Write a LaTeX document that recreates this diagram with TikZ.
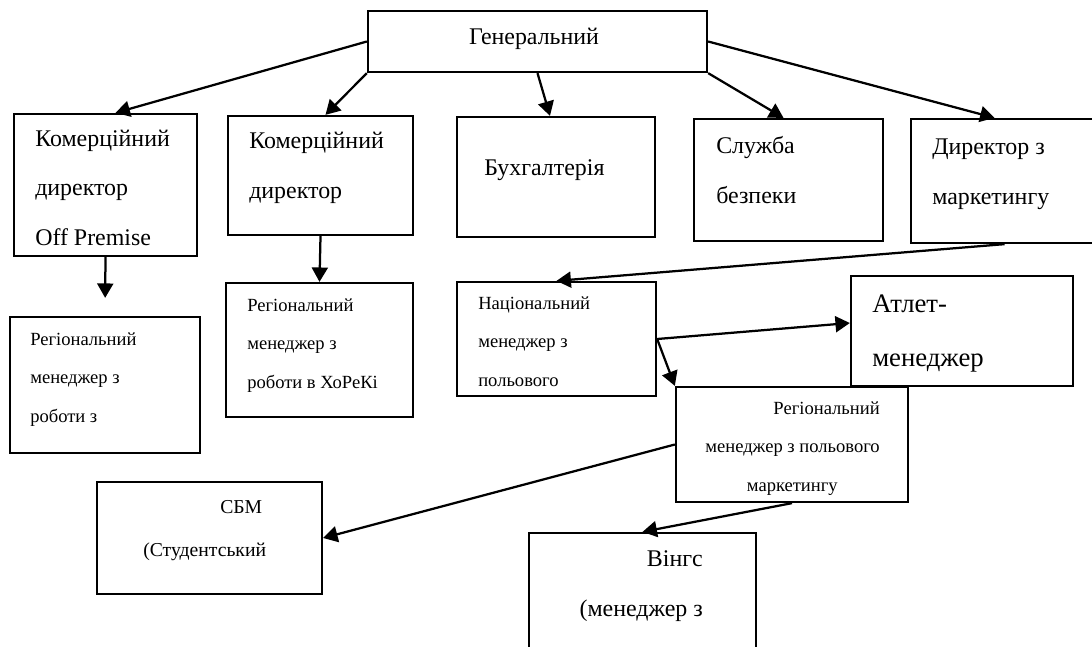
\documentclass[tikz,border=0pt]{standalone}
\usepackage{fontspec}
\setmainfont{Liberation Serif}
\usetikzlibrary{arrows.meta,calc}

\begin{document}
\begin{tikzpicture}[x=0.025cm,y=-0.025cm]

      \tikzstyle{box}=[draw,line width=1.6pt,inner sep=0pt]
      \tikzstyle{txt}=[inner sep=0pt,align=left,anchor=base west]
      \tikzstyle{big}=[font=\fontsize{17}{34.9}\selectfont]
      \tikzstyle{small}=[font=\fontsize{13.2}{27.2}\selectfont]
      \tikzstyle{arr}=[line width=1.6pt,-{Triangle[length=0.36cm,width=0.4cm]}]

      \useasboundingbox (0,0) rectangle (1092,646);

      % boxes
      \node[box,minimum width=8.475cm,minimum height=1.525cm] (T) at (537.5,41.5) {};
      \node[box,minimum width=4.575cm,minimum height=3.55cm] (A) at (105.5,185) {};
      \node[box,minimum width=4.625cm,minimum height=2.975cm] (B) at (320.5,175.5) {};
      \node[box,minimum width=4.95cm,minimum height=3cm] (C) at (556,177) {};
      \node[box,minimum width=4.725cm,minimum height=3.05cm] (D) at (788.5,180) {};
      \node[box,minimum width=4.675cm,minimum height=3.1cm] (E) at (1004.5,181) {};
      \node[box,minimum width=4.75cm,minimum height=3.4cm] (F) at (105,385) {};
      \node[box,minimum width=4.675cm,minimum height=3.35cm] (G) at (319.5,350) {};
      \node[box,minimum width=4.975cm,minimum height=2.85cm] (H) at (556.5,339) {};
      \node[box,minimum width=5.55cm,minimum height=2.75cm] (I) at (962,331) {};
      \node[box,minimum width=5.8cm,minimum height=2.875cm] (J) at (792,444.5) {};
      \node[box,minimum width=5.625cm,minimum height=2.8cm] (L) at (209.5,538) {};
      \node[box,minimum width=5.675cm,minimum height=3.675cm] (K) at (642.5,606.5) {};

      % texts (placed at the baseline of their last line)
      \node[txt,big,anchor=base] (Ttxt) at (534,44) {Генеральний};
      \node[txt,big] (Atxt) at (35,245) {Комерційний\\директор\\Off Premise};
      \node[txt,big] (Btxt) at (249,198) {Комерційний\\директор};
      \node[txt,big] (Ctxt) at (484,175) {Бухгалтерія};
      \node[txt,big] (Dtxt) at (716,203) {Служба\\безпеки};
      \node[txt,big] (Etxt) at (932,204) {Директор з\\маркетингу};
      \node[txt,small] (Ftxt) at (30,422) {Регіональний\\менеджер з\\роботи з};
      \node[txt,small] (Gtxt) at (247,388) {Регіональний\\менеджер з\\роботи в ХоРеКі};
      \node[txt,small] (Htxt) at (478,386) {Національний\\менеджер з\\польового};
      \node[txt,font=\fontsize{19}{38.4}\selectfont] (Itxt) at (872,366) {Атлет-\\менеджер};
      \node[txt,small,align=right,anchor=base east] (Jtxt) at (880,491)
          {Регіональний\\менеджер з польового\\маркетингу\hspace*{1.05cm}};
      \node[txt,font=\fontsize{14}{29.9}\selectfont] (Ltxt) at (143,556)
          {\hspace*{1.925cm}СБМ\\(Студентський};
      \node[txt,big,align=right,anchor=base east] (Ktxt) at (703,616) {Вінгс\\(менеджер з};

      % connectors
      \draw[arr] (T.west) -- ($(A.north)+(10,0)$);
      \draw[arr] (T.south west) -- ($(B.north)+(5,0)$);
      \draw[arr] (T.south) -- ($(C.north)+(-6,0)$);
      \draw[arr] (T.south east) -- ($(D.north)+(-5,0)$);
      \draw[arr] (T.east) -- ($(E.north)+(-10,0)$);
      \draw[arr,shorten >=0.45cm] (A.south) -- (F.north);
      \draw[arr] (B.south) -- (G.north);
      \draw[arr] (E.south) -- (H.north);
      \draw[arr] (H.east) -- ($(I.west)+(0,-8)$);
      \draw[arr] (H.east) -- (J.north west);
      \draw[arr] (J.west) -- (L.east);
      \draw[arr] (J.south) -- (K.north);

    \end{tikzpicture}
\end{document}
